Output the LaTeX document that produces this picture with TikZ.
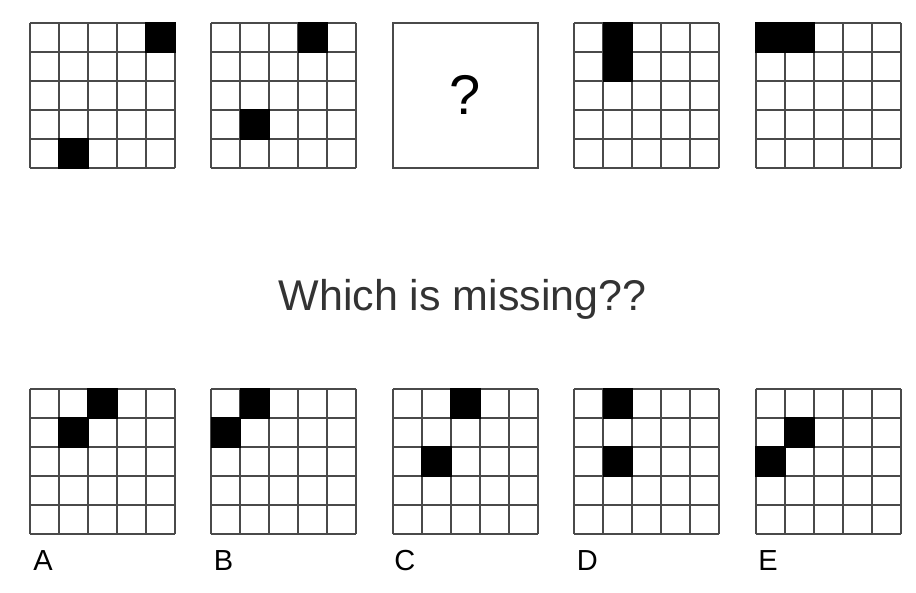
\documentclass[tikz,border=0pt]{standalone}
\usepackage{fontspec}
\setmainfont{Liberation Sans}
\usepackage{xcolor}
\usepackage{tikz}
\usetikzlibrary{positioning}
\definecolor{gridgray}{HTML}{4A4A4A}
\definecolor{textgray}{HTML}{333333}
\newcommand{\boardgrid}[1]{\draw[gridline, shift={(#1.south west)}] (0,0) grid[step=29pt] (145pt,145pt);}
\newcommand{\blk}[3]{\fill[black, shift={(#1.north west)}] (#2*29pt-0.8pt,-#3*29pt+0.8pt) rectangle ++(30.6pt,-30.6pt);}

\begin{document}
\begin{tikzpicture} [node distance = 181.5pt, on grid,
    board/.style={rectangle, minimum size=145pt, inner sep=0pt},
    gridline/.style={draw=gridgray, line width=1.7pt},
    optname/.style={anchor=base west, font=\fontsize{29}{30}\selectfont, text=black}]
\useasboundingbox (0,0) rectangle (916pt,-592pt);
\node (p1) [board] at (102.5pt,-95.5pt) {};
\node (p2) [board, right = of p1] {};
\node (p3) [board, right = of p2] {};
\node (p4) [board, right = of p3] {};
\node (p5) [board, right = of p4] {};
\node (a) [board, below = 366pt of p1] {};
\node (b) [board, right = of a] {};
\node (c) [board, right = of b] {};
\node (d) [board, right = of c] {};
\node (e) [board, right = of d] {};

\foreach \g in {p1,p2,p4,p5,a,b,c,d,e} {\boardgrid{\g}}
\draw[gridline] (p3.south west) rectangle (p3.north east);

\blk{p1}{4}{0} \blk{p1}{1}{4}
\blk{p2}{3}{0} \blk{p2}{1}{3}
\blk{p4}{1}{0} \blk{p4}{1}{1}
\blk{p5}{0}{0} \blk{p5}{1}{0}
\blk{a}{2}{0} \blk{a}{1}{1}
\blk{b}{1}{0} \blk{b}{0}{1}
\blk{c}{2}{0} \blk{c}{1}{2}
\blk{d}{1}{0} \blk{d}{1}{2}
\blk{e}{1}{1} \blk{e}{0}{2}

\node (qmark) [anchor=base, font=\fontsize{56}{58}\selectfont] at ([yshift=-19pt]p3.center) {?};

\node (title) [anchor=base, text=textgray, font=\fontsize{43}{45}\selectfont] at (462.5pt,-310pt) {Which is missing??};

\node (la) [optname] at ([xshift=0pt, yshift=-36pt]a.south west) {A};
\node (lb) [optname] at ([xshift=-1pt, yshift=-36pt]b.south west) {B};
\node (lc) [optname] at ([xshift=-2pt, yshift=-36pt]c.south west) {C};
\node (ld) [optname] at ([xshift=-1pt, yshift=-36pt]d.south west) {D};
\node (le) [optname] at ([xshift=-1pt, yshift=-36pt]e.south west) {E};
\end{tikzpicture}
\end{document}
